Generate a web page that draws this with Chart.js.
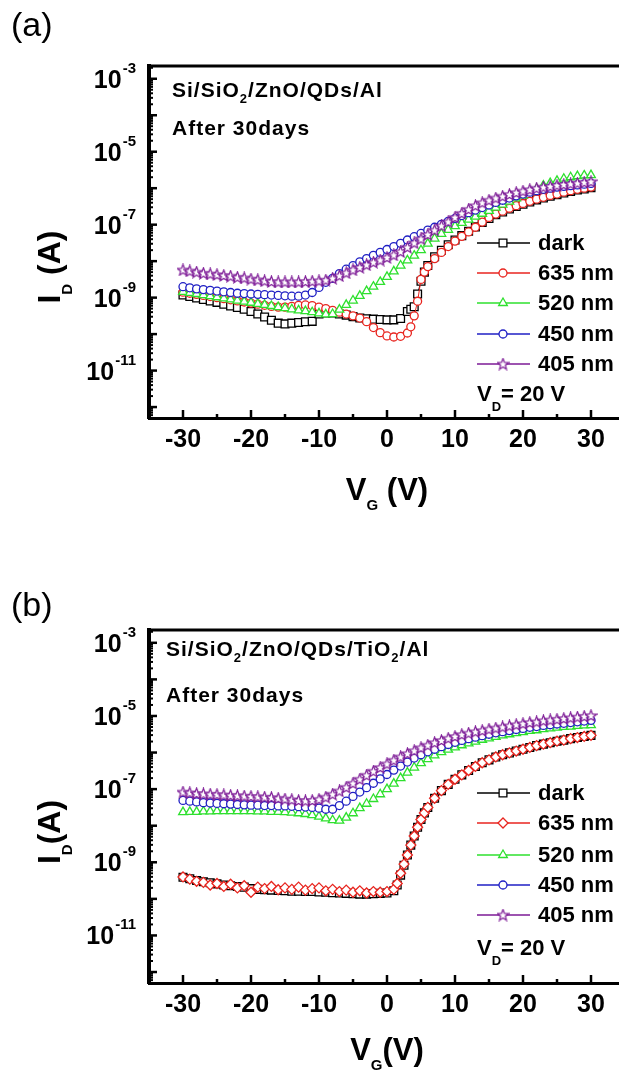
<!DOCTYPE html>
<html>
<head>
<meta charset="utf-8">
<script src="https://cdn.jsdelivr.net/npm/chart.js@4.4.1/dist/chart.umd.min.js"></script>
<style>
  html, body { margin: 0; padding: 0; background: #fff; overflow: hidden; }
  canvas { display: block; }
</style>
</head>
<body>
<canvas id="chartA" width="640" height="540"></canvas>
<canvas id="chartB" width="640" height="540"></canvas>
<script>
// gate voltage, V
const vg = [-30,-29,-28,-27,-26,-25,-24,-23,-22,-21,-20,-19,-18,-17,-16,-15,-14,-13,-12,-11,
  -10,-9,-8,-7,-6,-5,-4,-3,-2,-1,0,1,2,3,4,5,6,7,8,9,10,11,12,13,14,15,16,17,18,19,20,
  21,22,23,24,25,26,27,28,29,30];
const xTicks = [-30, -20, -10, 0, 10, 20, 30];
const xMinorTicks = [-25, -15, -5, 5, 15, 25];
const yLabelExps = [-3, -5, -7, -9, -11];
const legendLabels = ["dark", "635 nm", "520 nm", "450 nm", "405 nm"];

// log10 of I_D (A), panel (a)
const darkA = [-8.93,-8.97,-9.01,-9.05,-9.09,-9.13,-9.18,-9.23,-9.27,-9.32,
  -9.38,-9.45,-9.53,-9.62,-9.70,-9.72,-9.70,-9.68,-9.66,-9.65,
  -9.45,-9.42,-9.42,-9.45,-9.48,-9.52,-9.56,-9.58,-9.59,-9.60,
  -9.61,-9.61,-9.57,-9.38,-9.25,-8.55,-8.12,-7.88,-7.70,-7.55,
  -7.42,-7.30,-7.18,-7.06,-6.94,-6.83,-6.73,-6.65,-6.57,-6.50,
  -6.44,-6.38,-6.32,-6.27,-6.22,-6.18,-6.13,-6.09,-6.05,-6.02,-5.99];
const red635A = [-8.85,-8.88,-8.91,-8.94,-8.97,-9.00,-9.03,-9.06,-9.09,-9.12,
  -9.15,-9.18,-9.21,-9.24,-9.26,-9.26,-9.24,-9.21,-9.20,-9.22,
  -9.26,-9.30,-9.35,-9.40,-9.45,-9.50,-9.56,-9.66,-9.82,-9.96,
  -10.05,-10.08,-10.06,-9.97,-9.50,-8.50,-8.15,-7.93,-7.76,-7.60,
  -7.45,-7.32,-7.20,-7.07,-6.93,-6.80,-6.71,-6.63,-6.55,-6.48,
  -6.42,-6.36,-6.30,-6.25,-6.20,-6.16,-6.11,-6.07,-6.03,-6.00,-5.97];
const green520A = [-8.84,-8.87,-8.90,-8.93,-8.96,-8.99,-9.02,-9.05,-9.08,-9.11,
  -9.14,-9.17,-9.20,-9.23,-9.26,-9.29,-9.32,-9.35,-9.37,-9.40,
  -9.43,-9.46,-9.45,-9.33,-9.20,-9.08,-8.95,-8.82,-8.70,-8.57,
  -8.43,-8.28,-8.12,-7.98,-7.85,-7.70,-7.52,-7.38,-7.25,-7.14,
  -7.04,-6.95,-6.86,-6.78,-6.70,-6.62,-6.53,-6.45,-6.37,-6.28,
  -6.20,-6.11,-6.02,-5.93,-5.86,-5.80,-5.74,-5.70,-5.67,-5.65,-5.64];
const blue450A = [-8.70,-8.73,-8.76,-8.78,-8.80,-8.82,-8.84,-8.86,-8.88,-8.89,
  -8.90,-8.91,-8.92,-8.93,-8.94,-8.95,-8.96,-8.96,-8.93,-8.86,
  -8.72,-8.58,-8.47,-8.34,-8.22,-8.12,-8.02,-7.93,-7.84,-7.76,
  -7.68,-7.60,-7.51,-7.42,-7.33,-7.24,-7.15,-7.07,-6.99,-6.91,
  -6.83,-6.75,-6.67,-6.60,-6.53,-6.46,-6.39,-6.33,-6.27,-6.21,
  -6.16,-6.11,-6.07,-6.03,-6.00,-5.97,-5.95,-5.93,-5.91,-5.89,-5.87];
const purple405A = [-8.24,-8.27,-8.30,-8.33,-8.35,-8.37,-8.39,-8.41,-8.44,-8.46,
  -8.49,-8.51,-8.54,-8.56,-8.57,-8.57,-8.57,-8.57,-8.56,-8.55,
  -8.54,-8.52,-8.47,-8.40,-8.32,-8.24,-8.17,-8.10,-8.03,-7.97,
  -7.90,-7.83,-7.74,-7.62,-7.50,-7.39,-7.27,-7.15,-7.03,-6.92,
  -6.80,-6.69,-6.58,-6.48,-6.40,-6.33,-6.27,-6.22,-6.17,-6.12,
  -6.08,-6.04,-6.00,-5.97,-5.95,-5.92,-5.90,-5.88,-5.86,-5.84,-5.82];

// extra readings on the steep turn-on of panel (a)
const riseVgA = [3.5, 4.5, 5.5];
const riseDarkA = [-9.32, -8.90, -8.30];
const riseRedA = [-9.80, -9.10, -8.30];

// log10 of I_D (A), panel (b)
const darkB = [-9.41,-9.45,-9.50,-9.53,-9.56,-9.59,-9.62,-9.64,-9.66,-9.68,
  -9.72,-9.74,-9.75,-9.76,-9.77,-9.78,-9.79,-9.79,-9.80,-9.80,
  -9.81,-9.82,-9.83,-9.84,-9.85,-9.86,-9.87,-9.87,-9.86,-9.85,
  -9.84,-9.78,-9.35,-8.80,-8.28,-7.83,-7.50,-7.25,-7.04,-6.87,
  -6.73,-6.61,-6.49,-6.38,-6.28,-6.20,-6.12,-6.06,-6.01,-5.96,
  -5.91,-5.86,-5.81,-5.77,-5.73,-5.69,-5.66,-5.62,-5.59,-5.56,-5.53];
const red635B = [-9.40,-9.46,-9.52,-9.55,-9.62,-9.58,-9.66,-9.60,-9.70,-9.64,
  -9.82,-9.68,-9.72,-9.66,-9.75,-9.70,-9.74,-9.68,-9.76,-9.72,
  -9.70,-9.78,-9.74,-9.80,-9.76,-9.82,-9.78,-9.84,-9.80,-9.82,
  -9.80,-9.74,-9.30,-8.80,-8.28,-7.83,-7.50,-7.25,-7.04,-6.87,
  -6.73,-6.61,-6.49,-6.38,-6.28,-6.20,-6.12,-6.06,-6.01,-5.96,
  -5.91,-5.86,-5.81,-5.77,-5.73,-5.69,-5.66,-5.62,-5.59,-5.56,-5.53];
const green520B = [-7.63,-7.62,-7.62,-7.61,-7.61,-7.60,-7.60,-7.60,-7.60,-7.60,
  -7.60,-7.61,-7.61,-7.62,-7.62,-7.63,-7.64,-7.66,-7.68,-7.71,
  -7.75,-7.80,-7.85,-7.86,-7.78,-7.66,-7.52,-7.40,-7.27,-7.14,
  -7.00,-6.85,-6.70,-6.55,-6.41,-6.29,-6.18,-6.08,-5.99,-5.92,
  -5.86,-5.80,-5.75,-5.70,-5.65,-5.61,-5.57,-5.53,-5.50,-5.47,
  -5.44,-5.41,-5.39,-5.36,-5.34,-5.32,-5.30,-5.29,-5.27,-5.26,-5.25];
const blue450B = [-7.31,-7.33,-7.35,-7.37,-7.38,-7.39,-7.40,-7.41,-7.42,-7.43,
  -7.44,-7.44,-7.45,-7.45,-7.46,-7.46,-7.47,-7.48,-7.49,-7.50,
  -7.52,-7.55,-7.55,-7.45,-7.33,-7.20,-7.08,-6.96,-6.84,-6.72,
  -6.60,-6.48,-6.37,-6.26,-6.15,-6.06,-5.98,-5.91,-5.84,-5.78,
  -5.72,-5.67,-5.62,-5.58,-5.54,-5.50,-5.46,-5.43,-5.40,-5.37,
  -5.34,-5.31,-5.29,-5.26,-5.24,-5.22,-5.20,-5.18,-5.16,-5.14,-5.12];
const purple405B = [-7.08,-7.10,-7.12,-7.13,-7.14,-7.15,-7.16,-7.17,-7.18,-7.19,
  -7.20,-7.21,-7.22,-7.23,-7.25,-7.27,-7.29,-7.31,-7.32,-7.31,
  -7.28,-7.22,-7.14,-7.05,-6.95,-6.84,-6.73,-6.62,-6.51,-6.41,
  -6.31,-6.21,-6.12,-6.03,-5.95,-5.87,-5.80,-5.73,-5.67,-5.61,
  -5.56,-5.51,-5.47,-5.43,-5.40,-5.36,-5.33,-5.30,-5.27,-5.24,
  -5.21,-5.18,-5.16,-5.13,-5.11,-5.09,-5.07,-5.05,-5.03,-5.01,-4.99];

// extra readings on the steep turn-on of panel (b)
const riseVgB = [1.5, 2.5, 3.5, 4.5, 5.5];
const riseDarkB = [-9.62, -9.08, -8.53, -8.04, -7.65];
const riseRedB = [-9.58, -9.05, -8.53, -8.04, -7.65];

const FONT = "'Liberation Sans', Arial, sans-serif";
const Y_MIN_EXP = -12.3;
const Y_MAX_EXP = -2.65;
const COLORS = { dark: "#000000", red: "#e8251f", green: "#2ee02e", blue: "#1f1fc4", purple: "#7d1a96" };

function starImage(color) {
  const c = document.createElement("canvas");
  c.width = 13;
  c.height = 13;
  const g = c.getContext("2d");
  g.strokeStyle = color;
  g.fillStyle = "#fff";
  g.lineWidth = 1.2;
  g.beginPath();
  for (let i = 0; i < 10; i++) {
    const r = i % 2 ? 2.5 : 5.9;
    const a = -Math.PI / 2 + i * Math.PI / 5;
    const px = 6.5 + r * Math.cos(a);
    const py = 6.9 + r * Math.sin(a);
    if (i === 0) g.moveTo(px, py); else g.lineTo(px, py);
  }
  g.closePath();
  g.fill();
  g.stroke();
  return c;
}

const star = starImage(COLORS.purple);

function drawParts(ctx, parts, x, y, align) {
  let total = 0;
  parts.forEach(p => {
    ctx.font = `${p.weight || "bold"} ${p.size}px ${FONT}`;
    p.w = ctx.measureText(p.t).width;
    total += p.w;
  });
  let cx = align === "center" ? x - total / 2 : x;
  parts.forEach(p => {
    ctx.font = `${p.weight || "bold"} ${p.size}px ${FONT}`;
    ctx.fillText(p.t, cx, y + (p.dy || 0));
    cx += p.w;
  });
}

function panelPlugin(spec) {
  return {
    id: "panelDecor",
    afterDraw(chart) {
      const ctx = chart.ctx;
      const { left, right, top, bottom } = chart.chartArea;
      const xs = chart.scales.x;
      const ys = chart.scales.y;
      ctx.save();
      ctx.strokeStyle = "#000";
      ctx.fillStyle = "#000";

      // top frame line
      ctx.lineWidth = 3;
      ctx.beginPath();
      ctx.moveTo(left - 2, top);
      ctx.lineTo(right, top);
      ctx.stroke();

      // inward ticks, x
      xTicks.concat(xMinorTicks).forEach(v => {
        const px = xs.getPixelForValue(v);
        const len = xTicks.includes(v) ? 8 : 4;
        ctx.lineWidth = 2.5;
        ctx.beginPath();
        ctx.moveTo(px, bottom);
        ctx.lineTo(px, bottom - len);
        ctx.stroke();
      });

      // inward ticks, y (decades + 2..9)
      for (let e = -13; e <= -2; e++) {
        for (let m = 1; m <= 9; m++) {
          const v = m * Math.pow(10, e);
          if (v < ys.min || v > ys.max) continue;
          const py = ys.getPixelForValue(v);
          ctx.lineWidth = m === 1 ? 2.5 : 2;
          ctx.beginPath();
          ctx.moveTo(left, py);
          ctx.lineTo(left + (m === 1 ? 8 : 4), py);
          ctx.stroke();
        }
      }

      // y tick labels 10^n
      ctx.textAlign = "left";
      ctx.textBaseline = "alphabetic";
      yLabelExps.forEach(e => {
        const py = ys.getPixelForValue(Math.pow(10, e));
        const exp = String(e);
        ctx.font = `bold 15px ${FONT}`;
        const ew = ctx.measureText(exp).width;
        ctx.fillText(exp, 136 - ew, py - 6);
        ctx.font = `bold 25px ${FONT}`;
        const bw = ctx.measureText("10").width;
        ctx.fillText("10", 136 - ew - bw - 1, py + 9);
      });

      // axis titles
      drawParts(ctx, spec.xTitle, xs.getPixelForValue(0), spec.xTitleY, "center");
      ctx.save();
      ctx.translate(60, spec.yTitleY);
      ctx.rotate(-Math.PI / 2);
      drawParts(ctx, spec.yTitle, 0, 0, "center");
      ctx.restore();

      // panel tag
      ctx.font = `34px ${FONT}`;
      ctx.fillText(spec.tag, 11, spec.tagY);

      // sample text
      ctx.letterSpacing = "1px";
      drawParts(ctx, spec.title, spec.titleX, spec.titleY[0], "left");
      drawParts(ctx, [{ t: "After 30days", size: 21 }], spec.titleX, spec.titleY[1], "left");
      ctx.letterSpacing = "0px";

      // legend
      const drawPoint = Chart.helpers && Chart.helpers.drawPoint;
      spec.series.forEach((s, i) => {
        const ly = spec.legendY[i];
        ctx.strokeStyle = s.color;
        ctx.lineWidth = 1.3;
        ctx.beginPath();
        ctx.moveTo(477, ly);
        ctx.lineTo(530, ly);
        ctx.stroke();
        ctx.fillStyle = "#fff";
        if (drawPoint) {
          drawPoint(ctx, { pointStyle: s.style, radius: s.radius, borderWidth: 1.3, rotation: 0 }, 503, ly);
        }
        ctx.fillStyle = "#000";
        ctx.textBaseline = "middle";
        ctx.font = `bold 22px ${FONT}`;
        ctx.fillText(legendLabels[i], 538, ly + 1);
        ctx.textBaseline = "alphabetic";
      });
      drawParts(ctx, [
        { t: "V", size: 22 },
        { t: "D", size: 13, dy: 10 },
        { t: "= 20 V", size: 22 }
      ], 477, spec.vdY, "left");

      ctx.restore();
    }
  };
}

function seriesPoints(s) {
  const pts = vg.map((v, k) => ({ x: v, y: Math.pow(10, s.log[k]) }));
  if (s.extraX) {
    s.extraX.forEach((v, k) => pts.push({ x: v, y: Math.pow(10, s.extraLog[k]) }));
    pts.sort((a, b) => a.x - b.x);
  }
  return pts;
}

function makeChart(spec) {
  return new Chart(document.getElementById(spec.id), {
    type: "line",
    data: {
      datasets: spec.series.map((s, i) => ({
        label: legendLabels[i],
        data: seriesPoints(s),
        borderColor: s.color,
        borderWidth: 1,
        pointStyle: s.style,
        pointRadius: s.radius,
        pointBorderWidth: 1.3,
        pointBorderColor: s.color,
        pointBackgroundColor: "#fff",
        tension: 0,
        order: 5 - i
      }))
    },
    options: {
      responsive: false,
      animation: false,
      events: [],
      devicePixelRatio: 1,
      layout: { padding: { top: spec.top, right: 15, left: 0, bottom: 0 } },
      plugins: { legend: { display: false }, tooltip: { enabled: false } },
      scales: {
        x: {
          type: "linear",
          min: -35,
          max: 35,
          grid: { display: false, drawTicks: false },
          border: { display: true, width: 3, color: "#000" },
          ticks: { color: "#000", padding: 7, maxRotation: 0, font: { family: FONT, size: 25, weight: "bold" } },
          afterBuildTicks: scale => { scale.ticks = xTicks.map(v => ({ value: v })); },
          afterFit: scale => { scale.height = 540 - spec.bottom; }
        },
        y: {
          type: "logarithmic",
          bounds: "data",
          min: Math.pow(10, Y_MIN_EXP),
          max: Math.pow(10, Y_MAX_EXP),
          grid: { display: false, drawTicks: false },
          border: { display: true, width: 4, color: "#000" },
          ticks: { display: false },
          afterFit: scale => { scale.width = 149; }
        }
      }
    },
    plugins: [panelPlugin(spec)]
  });
}

makeChart({
  id: "chartA",
  tag: "(a)",
  tagY: 36,
  top: 66,
  bottom: 418,
  series: [
    { log: darkA, extraX: riseVgA, extraLog: riseDarkA, color: COLORS.dark, style: "rect", radius: 5.5 },
    { log: red635A, extraX: riseVgA, extraLog: riseRedA, color: COLORS.red, style: "circle", radius: 4 },
    { log: green520A, color: COLORS.green, style: "triangle", radius: 5 },
    { log: blue450A, color: COLORS.blue, style: "circle", radius: 4 },
    { log: purple405A, color: COLORS.purple, style: star, radius: 5 }
  ],
  titleX: 172,
  titleY: [97, 135],
  title: [{ t: "Si/SiO", size: 21 }, { t: "2", size: 13, dy: 6 }, { t: "/ZnO/QDs/Al", size: 21 }],
  xTitle: [{ t: "V", size: 31 }, { t: "G", size: 15, dy: 10 }, { t: " (V)", size: 31 }],
  xTitleY: 500,
  yTitle: [{ t: "I", size: 32 }, { t: "D", size: 15, dy: 12 }, { t: " (A)", size: 32 }],
  yTitleY: 267,
  legendY: [243, 273, 303, 334, 364],
  vdY: 401
});

makeChart({
  id: "chartB",
  tag: "(b)",
  tagY: 76,
  top: 90,
  bottom: 443,
  series: [
    { log: darkB, extraX: riseVgB, extraLog: riseDarkB, color: COLORS.dark, style: "rect", radius: 5.5 },
    { log: red635B, extraX: riseVgB, extraLog: riseRedB, color: COLORS.red, style: "rectRot", radius: 5 },
    { log: green520B, color: COLORS.green, style: "triangle", radius: 5 },
    { log: blue450B, color: COLORS.blue, style: "circle", radius: 4 },
    { log: purple405B, color: COLORS.purple, style: star, radius: 5 }
  ],
  titleX: 166,
  titleY: [116, 162],
  title: [
    { t: "Si/SiO", size: 21 }, { t: "2", size: 13, dy: 6 }, { t: "/ZnO/QDs/TiO", size: 21 },
    { t: "2", size: 13, dy: 6 }, { t: "/Al", size: 21 }
  ],
  xTitle: [{ t: "V", size: 31 }, { t: "G", size: 15, dy: 10 }, { t: "(V)", size: 31 }],
  xTitleY: 520,
  yTitle: [{ t: "I", size: 32 }, { t: "D", size: 15, dy: 12 }, { t: "(A)", size: 32 }],
  yTitleY: 292,
  legendY: [253, 283, 315, 345, 375],
  vdY: 415
});
</script>
</body>
</html>
